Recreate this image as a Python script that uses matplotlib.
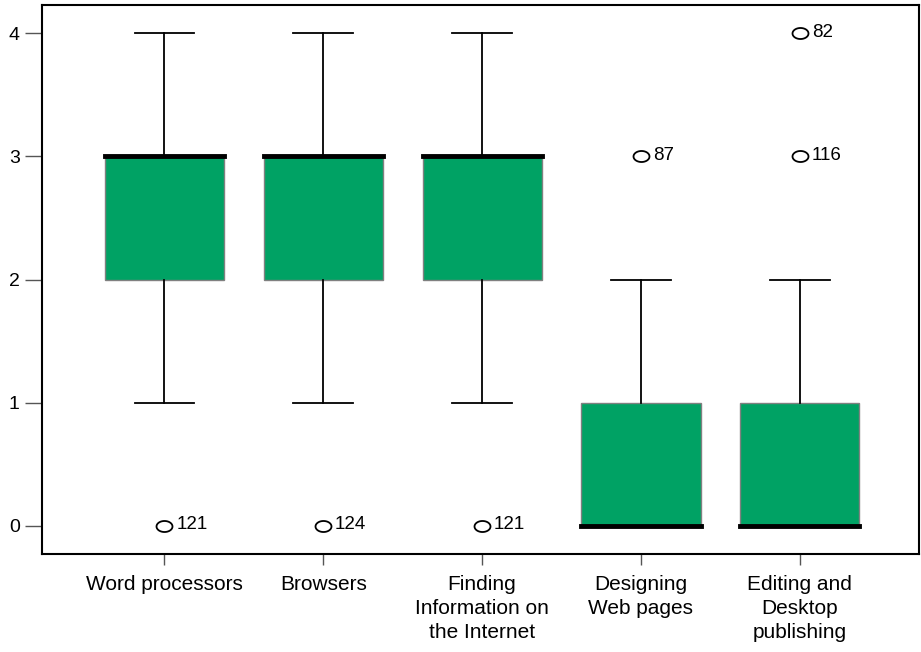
import matplotlib
matplotlib.use("Agg")
import matplotlib.pyplot as plt
from matplotlib.path import Path
import numpy as np

plt.rcParams['font.family'] = ['Liberation Sans', 'DejaVu Sans']

# categories and box statistics
categories = ["Word processors", "Browsers", "Finding\nInformation on\nthe Internet",
              "Designing\nWeb pages", "Editing and\nDesktop\npublishing"]
q1 = [2, 2, 2, 0, 0]
medians = [3, 3, 3, 0, 0]
q3 = [3, 3, 3, 1, 1]
whis_lo = [1, 1, 1, 0, 0]
whis_hi = [4, 4, 4, 2, 2]
outliers = [[0], [0], [0], [3], [3, 4]]
outlier_ids = [["121"], ["124"], ["121"], ["87"], ["116", "82"]]

stats = []
for i in range(len(categories)):
    stats.append(dict(med=medians[i], q1=q1[i], q3=q3[i],
                      whislo=whis_lo[i], whishi=whis_hi[i],
                      fliers=outliers[i]))

# ellipse-shaped outlier marker
t = np.linspace(0, 2 * np.pi, 60)
ellipse = Path(np.column_stack([1.45 * np.cos(t), np.sin(t)]), closed=True)

fig = plt.figure(figsize=(9.21, 6.52), dpi=100)
ax = fig.add_axes([42 / 921, 98 / 652, 877 / 921, 549 / 652])

pos = np.arange(1, len(categories) + 1)
ax.bxp(stats, positions=pos, widths=0.75, capwidths=0.375, patch_artist=True,
       boxprops=dict(facecolor='#00a264', edgecolor='#808080', linewidth=1),
       medianprops=dict(color='black', linewidth=3.5, solid_capstyle='projecting'),
       whiskerprops=dict(color='black', linewidth=1.3),
       capprops=dict(color='black', linewidth=1.3),
       flierprops=dict(marker=ellipse, markersize=11.5, markerfacecolor='none',
                       markeredgecolor='black', markeredgewidth=1.3))

for i, (vals, ids) in enumerate(zip(outliers, outlier_ids)):
    for v, lab in zip(vals, ids):
        ax.annotate(lab, (pos[i], v), xytext=(8.5, 0.5), textcoords='offset points',
                    ha='left', va='center', fontsize=13.5)

ax.set_xlim(0.23, 5.75)
ax.set_ylim(-0.23, 4.23)
ax.set_yticks([0, 1, 2, 3, 4])
ax.set_xticks(pos)
ax.set_xticklabels(categories, fontsize=15, linespacing=1.33, va='top')
ax.tick_params(axis='y', length=12, width=1, color='#555555', labelsize=14, pad=4)
ax.tick_params(axis='x', length=8, width=1, color='#555555', pad=7)
for s in ax.spines.values():
    s.set_linewidth(1.5)

fig.savefig("out.png", dpi=100)
